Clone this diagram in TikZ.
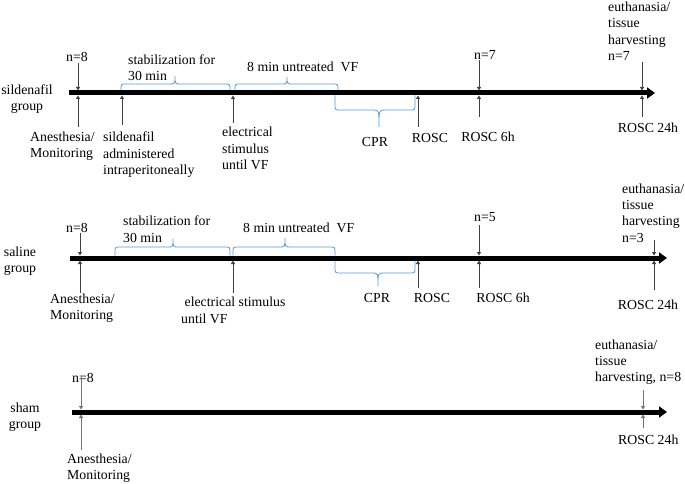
\documentclass[tikz,border=0pt]{standalone}
\usepackage{fontspec}
\setmainfont{Liberation Serif}
\usetikzlibrary{arrows.meta}
\definecolor{braceblue}{HTML}{5B9BD5}
\definecolor{tickgray}{HTML}{404040}
\newcommand\wordbrace[7]{% x1 x2 y0 ym yr xc yt
  \draw[bracestyle] (#1,#3) -- (#1,#5) .. controls (#1,#4) .. (#1+6,#4) -- (#6-6,#4)
    .. controls (#6,#4) .. (#6,#7) .. controls (#6,#4) .. (#6+6,#4) -- (#2-6,#4)
    .. controls (#2,#4) .. (#2,#5) -- (#2,#3);}
\tikzset{
  lbl/.style={inner sep=0pt, font=\fontsize{13.8}{16.3}\selectfont, align=left},
  clbl/.style={inner sep=0pt, font=\fontsize{13.8}{16.3}\selectfont, align=center},
  mainline/.style={line width=5pt, -{Triangle[length=8pt,width=11pt]}},
  tickarrow/.style={draw=tickgray, line width=0.8pt, -{Triangle[length=3.5pt,width=4pt]}},
  lighttick/.style={draw=black!55, line width=0.9pt, -{Triangle[length=3.5pt,width=4pt]}},
  bracestyle/.style={draw=braceblue, line width=0.8pt}
}
\begin{document}
\begin{tikzpicture}[x=1pt,y=-1pt]
\useasboundingbox (0,0) rectangle (685,484);
\fill[white] (0,0) rectangle (685,484);

% ---------------- sildenafil group ----------------
\coordinate (L1s) at (69,93);
\coordinate (L1e) at (655,93);
\draw[mainline] (L1s) -- (L1e);

% (base anchor of a multi-line node = baseline of its last line)
\node[clbl, anchor=base] (grp1) at (27,111) {sildenafil\\group};
\node[lbl, anchor=base] (n81) at (77,61.5) {n=8};
\node[lbl, anchor=base west] (stab1) at (128,81) {stabilization for\\30 min};
\node[lbl, anchor=base west] (vf1) at (247,71.5) {8 min untreated\ \ VF};
\node[lbl, anchor=base west] (an1) at (30,157.8) {Anesthesia/\\Monitoring};
\node[lbl, anchor=base west] (sil1) at (103,174.3) {sildenafil\\administered\\intraperitoneally};
\node[lbl, anchor=base west] (el1) at (222,169.3) {electrical\\stimulus\\until VF};
\node[lbl, anchor=base] (cpr1) at (375,146.5) {CPR};
\node[lbl, anchor=base] (rosc1) at (430,142.5) {ROSC};
\node[lbl, anchor=base] (n71) at (485,59.5) {n=7};
\node[lbl, anchor=base] (r6h1) at (488,141.5) {ROSC 6h};
\node[lbl, anchor=base west] (eu1) at (608,60.5) {euthanasia/\\tissue\\harvesting\\n=7};
\node[lbl, anchor=base] (r24h1) at (648,132.5) {ROSC 24h};

\coordinate (a1top) at (78,63);   \coordinate (a1t) at (78,90.5);
\coordinate (a1bot) at (78,127);  \coordinate (a1b) at (78,95.5);
\coordinate (s1bot) at (122,125); \coordinate (s1b) at (122,95.5);
\coordinate (e1bot) at (233,123); \coordinate (e1b) at (233,95.5);
\coordinate (r1bot) at (418,127); \coordinate (r1b) at (418,95.5);
\coordinate (h1top) at (479,60);  \coordinate (h1t) at (479,90.5);
\coordinate (h1bot) at (479,117); \coordinate (h1b) at (479,95.5);
\coordinate (d1top) at (642,62);  \coordinate (d1t) at (642,90.5);
\coordinate (d1bot) at (642,117); \coordinate (d1b) at (642,95.5);
\draw[tickarrow] (a1top) -- (a1t);
\draw[tickarrow] (a1bot) -- (a1b);
\draw[tickarrow] (s1bot) -- (s1b);
\draw[tickarrow] (e1bot) -- (e1b);
\draw[tickarrow] (r1bot) -- (r1b);
\draw[tickarrow] (h1top) -- (h1t);
\draw[tickarrow] (h1bot) -- (h1b);
\draw[tickarrow] (d1top) -- (d1t);
\draw[tickarrow] (d1bot) -- (d1b);

\wordbrace{121}{230}{90.5}{84}{90}{175}{76}
\wordbrace{235}{338}{90.5}{84}{90}{287}{77}
\wordbrace{335}{415}{95.5}{110}{104}{379}{127}

% ---------------- saline group ----------------
\coordinate (L2s) at (70,258);
\coordinate (L2e) at (667,258);
\draw[mainline] (L2s) -- (L2e);

\node[clbl, anchor=base] (grp2) at (20,272.6) {saline\\group};
\node[lbl, anchor=base] (n82) at (77,232.5) {n=8};
\node[lbl, anchor=base west] (stab2) at (123,242) {stabilization for\\30 min};
\node[lbl, anchor=base west] (vf2) at (243,232.5) {8 min untreated\ \ VF};
\node[lbl, anchor=base west] (an2) at (50,319.3) {Anesthesia/\\Monitoring};
\node[lbl, anchor=base west] (el2) at (181,323) {\ electrical stimulus\\until VF};
\node[lbl, anchor=base] (cpr2) at (377,302.5) {CPR};
\node[lbl, anchor=base] (rosc2) at (432,302.5) {ROSC};
\node[lbl, anchor=base] (n52) at (485,221.5) {n=5};
\node[lbl, anchor=base] (r6h2) at (503,302.5) {ROSC 6h};
\node[lbl, anchor=base west] (eu2) at (622,242) {euthanasia/\\tissue\\harvesting\\n=3};
\node[lbl, anchor=base] (r24h2) at (648,309.5) {ROSC 24h};

\coordinate (a2top) at (80,233);  \coordinate (a2t) at (80,255.5);
\coordinate (a2bot) at (80,293);  \coordinate (a2b) at (80,260.5);
\coordinate (e2bot) at (233,293); \coordinate (e2b) at (233,260.5);
\coordinate (r2bot) at (418,288); \coordinate (r2b) at (418,260.5);
\coordinate (h2top) at (479,225); \coordinate (h2t) at (479,255.5);
\coordinate (h2bot) at (479,288); \coordinate (h2b) at (479,260.5);
\coordinate (d2top) at (654,240); \coordinate (d2t) at (654,255.5);
\coordinate (d2bot) at (654,290); \coordinate (d2b) at (654,260.5);
\draw[tickarrow] (a2top) -- (a2t);
\draw[tickarrow] (a2bot) -- (a2b);
\draw[tickarrow] (e2bot) -- (e2b);
\draw[tickarrow] (r2bot) -- (r2b);
\draw[tickarrow] (h2top) -- (h2t);
\draw[tickarrow] (h2bot) -- (h2b);
\draw[tickarrow] (d2top) -- (d2t);
\draw[tickarrow] (d2bot) -- (d2b);

\wordbrace{115}{230}{255.5}{247}{253}{173}{239}
\wordbrace{233}{335}{255.5}{247}{253}{285}{238}
\wordbrace{335}{415}{260.5}{273}{267}{378}{286}

% ---------------- sham group ----------------
\coordinate (L3s) at (72,412);
\coordinate (L3e) at (667,412);
\draw[mainline] (L3s) -- (L3e);

\node[clbl, anchor=base] (grp3) at (25,428.6) {sham\\group};
\node[lbl, anchor=base] (n83) at (83,382.5) {n=8};
\node[lbl, anchor=base west] (an3) at (67,479.3) {Anesthesia/\\Monitoring};
\node[lbl, anchor=base west] (eu3) at (595,381.8) {euthanasia/\\tissue\\harvesting, n=8};
\node[lbl, anchor=base west] (r24h3) at (618,444.5) {ROSC 24h};

\coordinate (a3top) at (81,377);  \coordinate (a3t) at (81,409.5);
\coordinate (a3bot) at (81,450);  \coordinate (a3b) at (81,414.5);
\coordinate (d3top) at (643,390); \coordinate (d3t) at (643,409.5);
\coordinate (d3bot) at (643,428); \coordinate (d3b) at (643,414.5);
\draw[lighttick] (a3top) -- (a3t);
\draw[lighttick] (a3bot) -- (a3b);
\draw[lighttick] (d3top) -- (d3t);
\draw[lighttick] (d3bot) -- (d3b);
\end{tikzpicture}
\end{document}
